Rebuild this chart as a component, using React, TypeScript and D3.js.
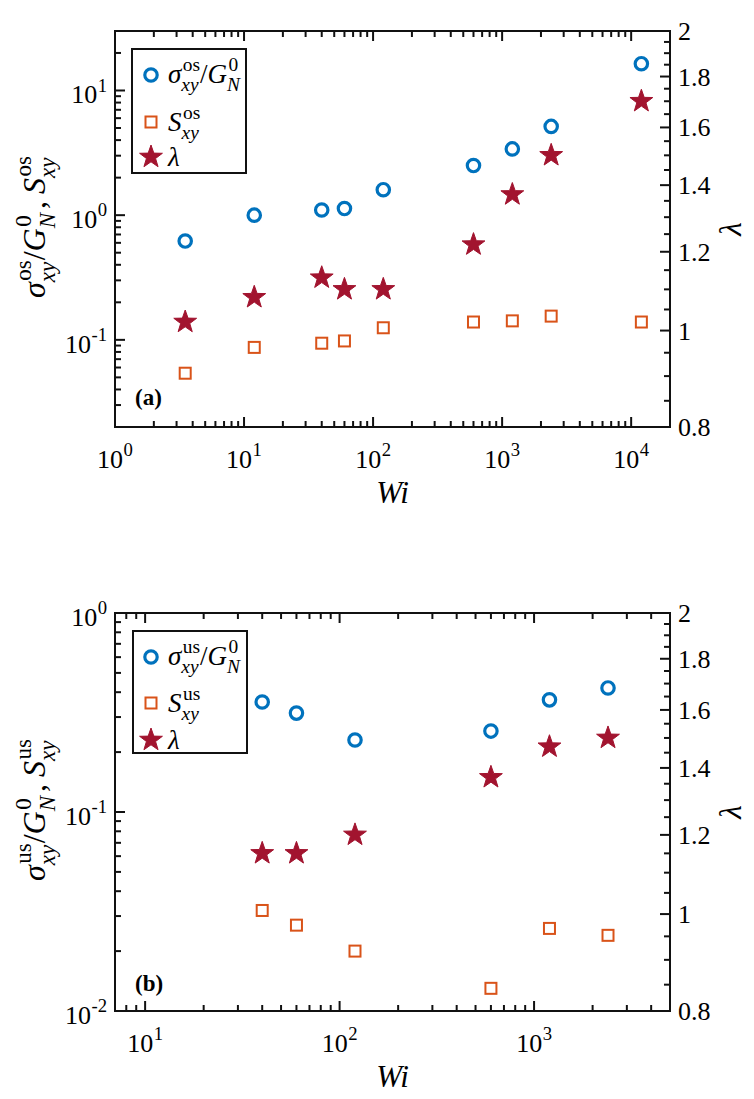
import React from "react";
import * as d3 from "d3";

// ---------- data ----------
const wiOs = [3.5, 12, 40, 60, 120, 600, 1200, 2400, 12000];
const sigmaOs = [0.62, 1.0, 1.1, 1.13, 1.6, 2.5, 3.4, 5.15, 16.4];
const sOs = [0.054, 0.087, 0.094, 0.098, 0.125, 0.139, 0.142, 0.155, 0.139];
const lambdaOs = [1.02, 1.08, 1.13, 1.1, 1.1, 1.22, 1.37, 1.5, 1.7];

const wiUs = [40, 60, 120, 600, 1200, 2400];
const sigmaUs = [0.357, 0.314, 0.23, 0.255, 0.366, 0.42];
const sUs = [0.032, 0.027, 0.02, 0.013, 0.026, 0.024];
const lambdaUs = [1.15, 1.15, 1.2, 1.37, 1.47, 1.5];

const xDomainA = [1, 2e4];
const yDomainA = [0.02, 30];
const xDomainB = [7, 5000];
const yDomainB = [0.01, 1];
const lamDomain = [0.8, 2];

const xExpA = [0, 1, 2, 3, 4];
const yExpA = [-1, 0, 1];
const xExpB = [1, 2, 3];
const yExpB = [-2, -1, 0];
const lamTicks = [0.8, 1, 1.2, 1.4, 1.6, 1.8, 2];
const lamLabels = ["0.8", "1", "1.2", "1.4", "1.6", "1.8", "2"];
const lamMinor = [0.85, 0.9, 0.95, 1.05, 1.1, 1.15, 1.25, 1.3, 1.35, 1.45, 1.5, 1.55, 1.65, 1.7, 1.75, 1.85, 1.9, 1.95];

const C_BLUE = "#0072BD";
const C_ORANGE = "#D95319";
const C_RED = "#A2142F";
const C_AX = "#111";
const FONT = "Liberation Serif, Times New Roman, serif";

// ---------- text measuring ----------
let ctx: CanvasRenderingContext2D | null = null;
function mw(t: string, size: number, it?: boolean, bold?: boolean) {
  if (!ctx && typeof document !== "undefined") ctx = document.createElement("canvas").getContext("2d");
  if (!ctx) return t.length * size * 0.5;
  ctx.font = `${it ? "italic " : ""}${bold ? "bold " : ""}${size}px "Liberation Serif", serif`;
  return ctx.measureText(t).width;
}

type Seg = { b?: string; i?: boolean; sup?: string; supI?: boolean; sub?: string; subI?: boolean; gap?: number; bold?: boolean };

function layout(segs: Seg[], F: number) {
  const items: { t: string; x: number; y: number; s: number; i?: boolean; bold?: boolean }[] = [];
  let x = 0;
  const ss = F * 0.72;
  segs.forEach((g) => {
    if (g.gap) x += g.gap;
    if (g.b) {
      items.push({ t: g.b, x, y: 0, s: F, i: g.i, bold: g.bold });
      x += mw(g.b, F, g.i, g.bold);
    }
    if (g.sup || g.sub) {
      const xo = g.i ? 1.5 : 0.5;
      let w1 = 0, w2 = 0;
      if (g.sup) { items.push({ t: g.sup, x: x + xo, y: -0.45 * F, s: ss, i: g.supI }); w1 = mw(g.sup, ss, g.supI) + xo; }
      if (g.sub) { items.push({ t: g.sub, x, y: 0.3 * F, s: ss, i: g.subI }); w2 = mw(g.sub, ss, g.subI); }
      x += Math.max(w1, w2);
    }
  });
  return { items, width: x };
}

function MathText({ x, y, segs, F, anchor = "start", rot = 0 }: { x: number; y: number; segs: Seg[]; F: number; anchor?: string; rot?: number }) {
  const { items, width } = layout(segs, F);
  const x0 = anchor === "middle" ? -width / 2 : anchor === "end" ? -width : 0;
  return (
    <g transform={`translate(${x},${y}) rotate(${rot})`}>
      {items.map((it, k) => (
        <text key={k} x={x0 + it.x} y={it.y} fill="#000"
          style={{ fontFamily: FONT, fontSize: it.s + "px", fontStyle: it.i ? "italic" : "normal", fontWeight: it.bold ? "bold" : "normal" }}>
          {it.t}
        </text>
      ))}
    </g>
  );
}

function logTicks(dom: number[]) {
  const out: { v: number; major: boolean }[] = [];
  const k0 = Math.floor(Math.log10(dom[0]));
  const k1 = Math.ceil(Math.log10(dom[1]));
  for (let k = k0; k <= k1; k++) {
    for (let m = 1; m <= 9; m++) {
      const v = m * Math.pow(10, k);
      if (v >= dom[0] * 0.9999 && v <= dom[1] * 1.0001) out.push({ v, major: m === 1 });
    }
  }
  return out;
}

function starPath(R: number) {
  const r = R * 0.4;
  const pts: [number, number][] = [];
  for (let i = 0; i < 10; i++) {
    const a = -Math.PI / 2 + (i * Math.PI) / 5;
    const rr = i % 2 === 0 ? R : r;
    pts.push([rr * Math.cos(a), rr * Math.sin(a)]);
  }
  return d3.line()(pts) + "Z";
}
const STAR = starPath(12);

function Circle({ x, y }: { x: number; y: number }) {
  return <circle cx={x} cy={y} r={6.2} fill="none" stroke={C_BLUE} strokeWidth={3.2} />;
}
function Square({ x, y }: { x: number; y: number }) {
  return <rect x={x - 5.5} y={y - 5.5} width={11} height={11} fill="none" stroke={C_ORANGE} strokeWidth={2} />;
}
function Star({ x, y }: { x: number; y: number }) {
  return <path d={STAR} transform={`translate(${x},${y})`} fill={C_RED} stroke={C_RED} strokeWidth={1} />;
}

type Box = { l: number; r: number; t: number; b: number };

function Panel({ box, xDom, yDom, xExp, yExp, wi, sig, s, lam, tag, lblTag, legBox, legRows }: any) {
  const x = d3.scaleLog().domain(xDom).range([box.l, box.r]);
  const y = d3.scaleLog().domain(yDom).range([box.b, box.t]);
  const yl = d3.scaleLog().domain(lamDomain).range([box.b, box.t]);
  const xt = logTicks(xDom);
  const yt = logTicks(yDom);
  const MJ = 10, MN = 6;
  const F = 26;
  const lines: any[] = [];
  xt.forEach((t, k) => {
    const px = x(t.v);
    const L = t.major ? MJ : MN;
    lines.push(<line key={"xb" + k} x1={px} x2={px} y1={box.b} y2={box.b - L} />);
    lines.push(<line key={"xt" + k} x1={px} x2={px} y1={box.t} y2={box.t + L} />);
  });
  yt.forEach((t, k) => {
    const py = y(t.v);
    const L = t.major ? MJ : MN;
    lines.push(<line key={"yl" + k} x1={box.l} x2={box.l + L} y1={py} y2={py} />);
  });
  lamTicks.forEach((v, k) => {
    const py = yl(v);
    lines.push(<line key={"lr" + k} x1={box.r} x2={box.r - MJ} y1={py} y2={py} />);
  });
  lamMinor.forEach((v, k) => {
    const py = yl(v);
    lines.push(<line key={"lm" + k} x1={box.r} x2={box.r - MN} y1={py} y2={py} />);
  });
  const cy = (box.t + box.b) / 2;
  const cx = (box.l + box.r) / 2;
  return (
    <g>
      {wi.map((w: number, k: number) => <Square key={"s" + k} x={x(w)} y={y(s[k])} />)}
      {wi.map((w: number, k: number) => <Star key={"l" + k} x={x(w)} y={yl(lam[k])} />)}
      {wi.map((w: number, k: number) => <Circle key={"c" + k} x={x(w)} y={y(sig[k])} />)}
      <g stroke={C_AX} strokeWidth={2} fill="none">
        {lines}
        <rect x={box.l} y={box.t} width={box.r - box.l} height={box.b - box.t} />
      </g>
      {xExp.map((e: number) => (
        <MathText key={"xl" + e} x={x(Math.pow(10, e))} y={box.b + 41} F={F} anchor="middle" segs={[{ b: "10", sup: String(e) }]} />
      ))}
      {yExp.map((e: number) => (
        <MathText key={"yl" + e} x={box.l - 8} y={y(Math.pow(10, e)) + 13} F={F} anchor="end" segs={[{ b: "10", sup: String(e) }]} />
      ))}
      {lamTicks.map((v, k) => (
        <text key={"ll" + k} x={box.r + 8} y={yl(v) + 9} style={{ fontFamily: FONT, fontSize: F + "px" }}>{lamLabels[k]}</text>
      ))}
      <MathText x={cx} y={box.b + 76} F={31} anchor="middle" segs={[{ b: "Wi", i: true }]} />
      <MathText x={741} y={cy} F={31} anchor="middle" rot={-90} segs={[{ b: "λ", i: true }]} />
      <MathText x={45} y={cy - 2} F={32} anchor="middle" rot={-90}
        segs={[
          { b: "σ", i: true, sup: tag, sub: "xy", subI: true },
          { b: "/" },
          { b: "G", i: true, sup: "0", sub: "N", subI: true },
          { b: ",", gap: 4 },
          { b: "S", i: true, gap: 7, sup: tag, sub: "xy", subI: true },
        ]} />
      <text x={135} y={lblTag.y} style={{ fontFamily: FONT, fontSize: "23px", fontWeight: "bold" }}>{lblTag.t}</text>
      <rect x={legBox.x} y={legBox.y} width={legBox.w} height={legBox.h} fill="#fff" stroke={C_AX} strokeWidth={2} />
      <Circle x={151} y={legRows[0]} />
      <Square x={151} y={legRows[1]} />
      <Star x={151} y={legRows[2]} />
      <MathText x={168} y={legRows[0] + 8} F={27} segs={[
        { b: "σ", i: true, sup: tag, sub: "xy", subI: true },
        { b: "/" },
        { b: "G", i: true, sup: "0", sub: "N", subI: true },
      ]} />
      <MathText x={168} y={legRows[1] + 9} F={27} segs={[{ b: "S", i: true, sup: tag, sub: "xy", subI: true }]} />
      <MathText x={168} y={legRows[2] + 9} F={27} segs={[{ b: "λ", i: true }]} />
    </g>
  );
}

export default function App() {
  const boxA: Box = { l: 115, r: 670, t: 31, b: 427 };
  const boxB: Box = { l: 115, r: 670, t: 613, b: 1011 };
  return (
    <svg width={754} height={1099} style={{ position: "absolute", left: 0, top: 0, background: "#fff" }}>
      <rect x={0} y={0} width={754} height={1099} fill="#fff" />
      <Panel box={boxA} xDom={xDomainA} yDom={yDomainA} xExp={xExpA} yExp={yExpA}
        wi={wiOs} sig={sigmaOs} s={sOs} lam={lambdaOs} tag="os"
        lblTag={{ t: "(a)", y: 405 }} legBox={{ x: 132, y: 49, w: 114, h: 124 }} legRows={[75, 122, 157]} />
      <Panel box={boxB} xDom={xDomainB} yDom={yDomainB} xExp={xExpB} yExp={yExpB}
        wi={wiUs} sig={sigmaUs} s={sUs} lam={lambdaUs} tag="us"
        lblTag={{ t: "(b)", y: 991 }} legBox={{ x: 133, y: 631, w: 114, h: 122 }} legRows={[657, 703, 740]} />
    </svg>
  );
}
